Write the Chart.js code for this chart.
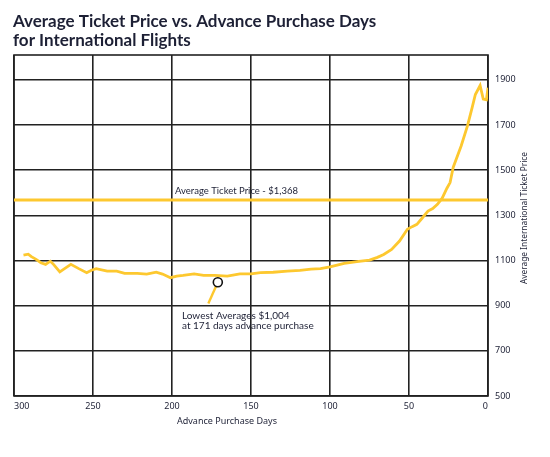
<!DOCTYPE html>
<html>
<head>
<meta charset="utf-8">
<script src="https://cdn.jsdelivr.net/npm/chart.js@4.4.1/dist/chart.umd.min.js"></script>
<style>
  html, body { margin: 0; padding: 0; background: #fff; }
  #wrap { width: 550px; height: 457px; position: relative; }
</style>
</head>
<body>
<div id="wrap"><canvas id="priceChart"></canvas></div>
<script>
// ===== data =====
const days = [294, 291, 289, 286, 283, 280, 277, 275, 271, 268, 264, 259, 254, 251, 248, 241, 235, 230, 222, 216,
    210, 206, 201, 197, 193, 186, 180, 173, 165, 157, 150, 144, 136, 127, 119, 112, 106, 100, 91, 83,
    75, 70, 66, 61, 56, 51, 48, 45, 42, 38, 35, 32, 29, 26, 24, 22, 17, 13, 10, 8, 5, 3, 1, 0];
const prices = [1124, 1128, 1117, 1105, 1090, 1083, 1097, 1083, 1050, 1064, 1083, 1064, 1046, 1057, 1064, 1053, 1053, 1043, 1043, 1040,
    1048, 1040, 1024, 1031, 1034, 1041, 1034, 1034, 1031, 1041, 1041, 1046, 1048, 1053, 1056, 1062, 1064, 1072, 1087, 1095,
    1102, 1114, 1127, 1149, 1186, 1238, 1250, 1260, 1285, 1319, 1330, 1349, 1376, 1420, 1445, 1513, 1607, 1696, 1778, 1835, 1875, 1815, 1812, 1865];

const avgPrice = 1368;
const lowDay = 171;
const lowPrice = 1004;
const leaderDays = [177, 171];
const leaderPrices = [910, 1004];

const xTicks = [0, 50, 100, 150, 200, 250, 300];
const yTicks = [500, 700, 900, 1100, 1300, 1500, 1700, 1900];

const titleLines = ['Average Ticket Price vs. Advance Purchase Days', 'for International Flights'];
const xTitle = 'Advance Purchase Days';
const yTitle = 'Average International Ticket Price';
const avgLabel = 'Average Ticket Price - $1,368';
const lowLabel = ['Lowest Averages $1,004', 'at 171 days advance purchase'];

const gold = '#FDC82F';
const ink = '#1d2035';
const gridColor = '#222';

// ===== frame + texts =====
const textPlugin = {
    id: 'textPlugin',
    beforeDatasetsDraw(chart) {
        const a = chart.chartArea, c = chart.ctx;
        c.save();
        c.strokeStyle = gridColor;
        c.lineWidth = 1.6;
        c.strokeRect(a.left, a.top, a.right - a.left, a.bottom - a.top);
        c.restore();
    },
    afterDraw(chart) {
        const c = chart.ctx, xs = chart.scales.x, ys = chart.scales.y;
        c.save();
        c.fillStyle = ink;
        c.textBaseline = 'alphabetic';
        c.textAlign = 'left';

        // title
        c.font = 'bold 17px Lato';
        c.fillText(titleLines[0], 13, 27, 375);
        c.fillText(titleLines[1], 13, 46, 375);

        // average label
        c.font = '9.5px Lato';
        c.textBaseline = 'middle';
        c.fillText(avgLabel, xs.getPixelForValue(200) + 3, ys.getPixelForValue(avgPrice) - 9, 132);

        // lowest label
        c.font = '10px Lato';
        const lx = xs.getPixelForValue(200) + 10;
        const ly = ys.getPixelForValue(leaderPrices[0]);
        c.fillText(lowLabel[0], lx, ly + 12);
        c.fillText(lowLabel[1], lx, ly + 22);

        // x axis title
        c.font = '9.5px "Noto Sans"';
        c.textAlign = 'center';
        c.fillText(xTitle, 227, 421, 100);

        // y axis title, reads bottom to top
        c.translate(525, 218);
        c.rotate(-Math.PI / 2);
        c.font = '8.5px "Noto Sans"';
        c.fillText(yTitle, 0, 0, 132);
        c.restore();
    }
};

const ctx = document.getElementById('priceChart');
new Chart(ctx, {
    type: 'line',
    data: {
        datasets: [
            {
                data: [{ x: lowDay, y: lowPrice }],
                showLine: false,
                pointRadius: 4.5,
                pointBackgroundColor: '#fff',
                pointBorderColor: '#111',
                pointBorderWidth: 1.6,
                order: 0
            },
            {
                data: leaderDays.map((d, i) => ({ x: d, y: leaderPrices[i] })),
                borderColor: gold,
                borderWidth: 2.4,
                pointRadius: 0,
                order: 1
            },
            {
                data: days.map((d, i) => ({ x: d, y: prices[i] })),
                borderColor: gold,
                borderWidth: 2.8,
                pointRadius: 0,
                tension: 0,
                order: 2
            },
            {
                data: [{ x: 300, y: avgPrice }, { x: 0, y: avgPrice }],
                borderColor: gold,
                borderWidth: 2.8,
                pointRadius: 0,
                order: 3
            }
        ]
    },
    options: {
        responsive: true,
        maintainAspectRatio: false,
        animation: false,
        layout: { padding: { top: 55, left: 14, right: 0, bottom: 0 } },
        plugins: { legend: { display: false }, tooltip: { enabled: false }, title: { display: false } },
        scales: {
            x: {
                type: 'linear',
                reverse: true,
                min: 0,
                max: 300,
                afterBuildTicks: s => { s.ticks = xTicks.map(v => ({ value: v })); },
                afterFit: s => { s.height = 61; },
                border: { display: false },
                grid: { color: gridColor, lineWidth: 1.6, drawTicks: false },
                ticks: { color: ink, padding: 5, align: 'inner', maxRotation: 0,
                    callback: v => String(v),
                    font: { family: 'Noto Sans', size: 9 } }
            },
            y: {
                position: 'right',
                min: 500,
                max: 2010,
                afterBuildTicks: s => { s.ticks = yTicks.map(v => ({ value: v })); },
                afterFit: s => { s.width = 62; },
                border: { display: false },
                grid: { color: gridColor, lineWidth: 1.6, drawTicks: false },
                ticks: { color: ink, padding: 7, callback: v => String(v),
                    font: { family: 'Noto Sans', size: 9 } }
            }
        }
    },
    plugins: [textPlugin]
});
</script>
</body>
</html>
